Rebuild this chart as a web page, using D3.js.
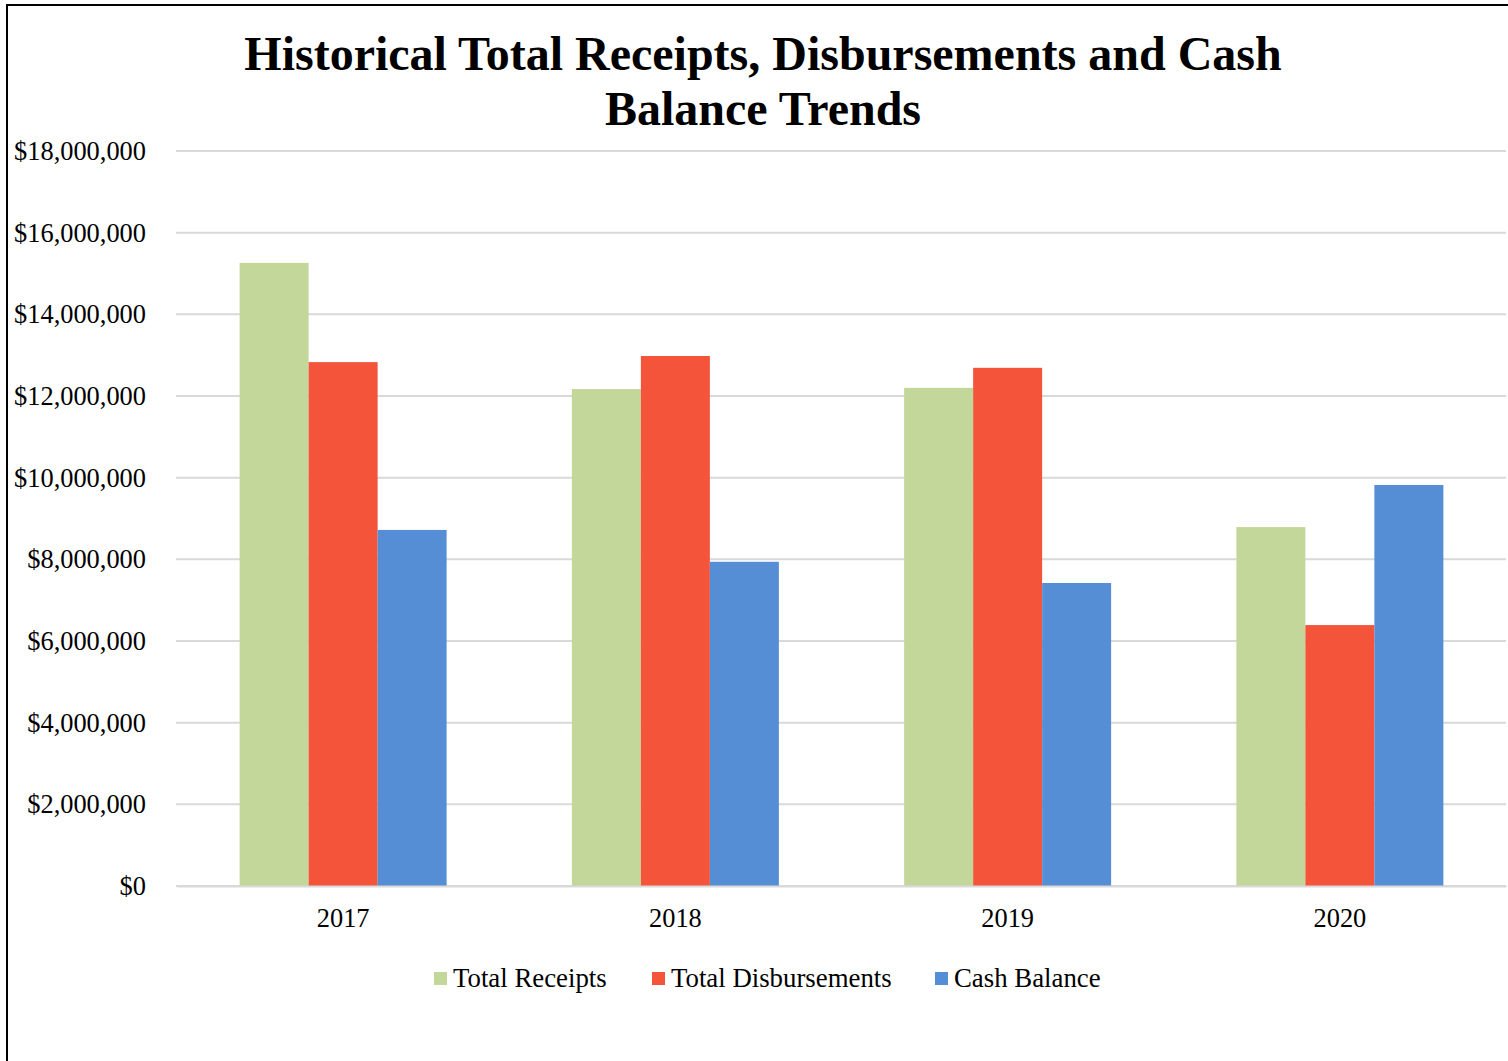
<!DOCTYPE html>
<html>
<head>
<meta charset="utf-8">
<script src="https://cdn.jsdelivr.net/npm/d3@7"></script>
<style>
  html, body { margin: 0; padding: 0; background: #fff; }
  svg { display: block; font-family: "Liberation Serif", "Times New Roman", serif; }
</style>
</head>
<body>
<svg id="chart" width="1508" height="1061"></svg>
<script>
// Fiscal years shown on the x axis
const years = ["2017", "2018", "2019", "2020"];
// Series names, in legend order
const seriesNames = ["Total Receipts", "Total Disbursements", "Cash Balance"];
// Dollar amounts per year
const totalReceipts = [15260000, 12170000, 12200000, 8790000];
const totalDisbursements = [12830000, 12980000, 12690000, 6390000];
const cashBalance = [8720000, 7940000, 7420000, 9820000];
// Y axis ticks
const yTicks = [0, 2000000, 4000000, 6000000, 8000000, 10000000, 12000000, 14000000, 16000000, 18000000];
const seriesColors = ["#C4D79B", "#F4553A", "#558ED5"];

const seriesValues = [totalReceipts, totalDisbursements, cashBalance];
const rows = years.map((y, i) => ({ year: y, values: seriesValues.map(s => s[i]) }));

const svg = d3.select("#chart");
const W = 1508, H = 1061;
const margin = { left: 177, right: 2, top: 151, bottom: H - 886 };

// Outer frame
svg.append("rect")
  .attr("x", 7).attr("y", 5)
  .attr("width", W + 20).attr("height", H + 20)
  .attr("fill", "#fff").attr("stroke", "#000").attr("stroke-width", 2);

// Title
const title = svg.append("text")
  .attr("text-anchor", "middle")
  .attr("font-weight", "bold")
  .attr("font-size", 48)
  .attr("fill", "#000");
title.append("tspan").attr("x", 763).attr("y", 70).text("Historical Total Receipts, Disbursements and Cash");
title.append("tspan").attr("x", 763).attr("y", 125).text("Balance Trends");

const x0 = d3.scaleBand()
  .domain(years)
  .range([margin.left, W - margin.right])
  .paddingInner(0.377)
  .paddingOuter(0.1885);

const x1 = d3.scaleBand()
  .domain(seriesNames)
  .range([0, x0.bandwidth()]);

const y = d3.scaleLinear()
  .domain([0, 18000000])
  .range([H - margin.bottom, margin.top]);

// Gridlines
svg.append("g")
  .selectAll("line")
  .data(yTicks)
  .join("line")
  .attr("x1", margin.left - 1).attr("x2", W - margin.right)
  .attr("y1", d => y(d)).attr("y2", d => y(d))
  .attr("stroke", "#D9D9D9").attr("stroke-width", 2);

// Y axis labels
const fmt = d => "$" + d3.format(",")(d);
const yAxis = d3.axisLeft(y).tickValues(yTicks).tickFormat(fmt).tickSize(0).tickPadding(31);
const gy = svg.append("g").attr("transform", `translate(${margin.left},0)`).call(yAxis);
gy.select(".domain").remove();
gy.selectAll("text")
  .attr("font-family", "Liberation Serif, Times New Roman, serif")
  .attr("font-size", 26.4).attr("fill", "#000");

// Bars
const groups = svg.append("g")
  .selectAll("g")
  .data(rows)
  .join("g")
  .attr("transform", d => `translate(${x0(d.year)},0)`);

groups.selectAll("rect")
  .data(d => d.values.map((v, i) => ({ name: seriesNames[i], value: v, color: seriesColors[i] })))
  .join("rect")
  .attr("x", d => x1(d.name))
  .attr("y", d => y(d.value))
  .attr("width", x1.bandwidth())
  .attr("height", d => y(0) - y(d.value))
  .attr("fill", d => d.color);

// X axis
const xAxis = d3.axisBottom(x0).tickSize(0).tickPadding(22);
const gx = svg.append("g").attr("transform", `translate(0,${y(0)})`).call(xAxis);
gx.select(".domain").attr("stroke", "#D9D9D9").attr("stroke-width", 2);
gx.selectAll("text")
  .attr("font-family", "Liberation Serif, Times New Roman, serif")
  .attr("font-size", 26.4).attr("fill", "#000");

// Legend
const legendItems = [
  { name: seriesNames[0], color: seriesColors[0], x: 434 },
  { name: seriesNames[1], color: seriesColors[1], x: 652 },
  { name: seriesNames[2], color: seriesColors[2], x: 935 }
];
const lg = svg.append("g").selectAll("g").data(legendItems).join("g")
  .attr("transform", d => `translate(${d.x},972)`);
lg.append("rect").attr("width", 13).attr("height", 13).attr("fill", d => d.color);
lg.append("text")
  .attr("x", 19).attr("y", 15)
  .attr("font-size", 26.8).attr("fill", "#000")
  .text(d => d.name);
</script>
</body>
</html>
